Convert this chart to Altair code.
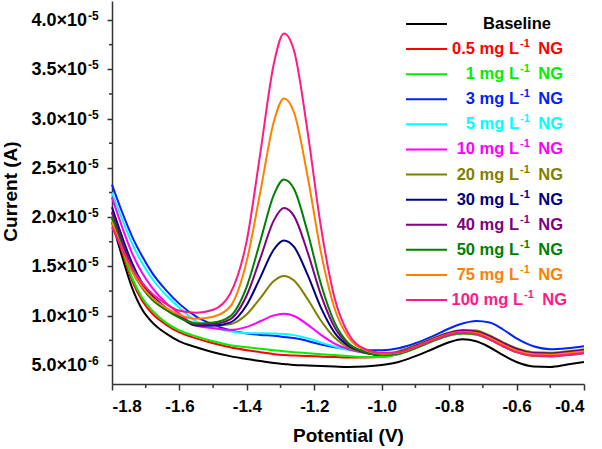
import altair as alt
import pandas as pd

# Potential grid (V)
potential = [-1.80, -1.77, -1.74, -1.71, -1.68, -1.64, -1.60, -1.55, -1.50, -1.45,
             -1.40, -1.36, -1.32, -1.29, -1.26, -1.22, -1.18, -1.14, -1.10, -1.05,
             -1.00, -0.95, -0.90, -0.85, -0.80, -0.76, -0.72, -0.68, -0.64, -0.60,
             -0.55, -0.50, -0.45, -0.40]

# Currents in units of 1e-6 A
baseline = [19.5, 16.0, 12.8, 10.6, 9.3, 8.2, 7.4, 6.8,
            6.3, 5.9, 5.6, 5.4, 5.2, 5.1, 5.0, 4.95, 4.9, 4.85, 4.8, 4.85, 5.0,
            5.3, 5.9, 6.6, 7.3, 7.6, 7.4, 6.8, 6.0, 5.3, 4.85, 4.8, 5.05, 5.3]
ng_0_5 = [20.0, 16.5, 13.5, 11.5, 10.2, 9.1, 8.3, 7.7,
          7.2, 6.8, 6.5, 6.3, 6.1, 6.0, 5.95, 5.9, 5.85, 5.8, 5.75, 5.75, 5.8,
          6.1, 6.7, 7.4, 8.0, 8.2, 8.1, 7.6, 6.9, 6.3, 5.9, 5.85, 6.0, 6.2]
ng_1 = [20.0, 16.8, 13.8, 11.8, 10.5, 9.3, 8.5, 7.9,
        7.4, 7.0, 6.8, 6.65, 6.5, 6.4, 6.3, 6.2, 6.1, 6.0, 5.9, 5.8, 5.8,
        6.1, 6.7, 7.4, 8.0, 8.2, 8.1, 7.6, 6.9, 6.3, 5.95, 5.9, 6.05, 6.25]
ng_3 = [23.3, 20.5, 18.0, 16.0, 14.3, 12.6, 11.2, 9.9,
        9.1, 8.53, 8.2, 8.05, 7.96, 7.85, 7.73, 7.44, 7.08, 6.8, 6.62, 6.5, 6.5,
        6.7, 7.2, 7.9, 8.7, 9.2, 9.45, 9.3, 8.6, 7.7, 6.9, 6.6, 6.7, 6.9]
ng_5 = [22.5, 19.8, 17.3, 15.3, 13.7, 12.1, 10.8, 9.4,
        8.8, 8.43, 8.23, 8.21, 8.2, 8.15, 8.03, 7.71, 7.27, 6.87, 6.52, 6.3, 6.2,
        6.3, 6.85, 7.55, 8.15, 8.35, 8.25, 7.75, 7.05, 6.45, 6.05, 6.0, 6.15, 6.35]
ng_10 = [22.0, 19.0, 16.3, 14.3, 12.8, 11.3, 10.2, 9.0,
         8.73, 8.57, 8.87, 9.44, 10.03, 10.2, 9.97, 9.1, 8.05, 7.17, 6.62, 6.22, 6.05,
         6.2, 6.8, 7.5, 8.1, 8.3, 8.2, 7.7, 7.0, 6.4, 6.0, 5.95, 6.1, 6.3]
ng_20 = [20.5, 17.5, 14.8, 13.0, 11.8, 10.6, 9.8, 9.2,
         9.02, 9.14, 10.15, 11.79, 13.52, 14.04, 13.57, 11.69, 9.49, 7.79, 6.79, 6.25, 6.05,
         6.4, 7.0, 7.7, 8.3, 8.55, 8.5, 8.0, 7.3, 6.7, 6.3, 6.25, 6.4, 6.6]
ng_30 = [21.0, 18.0, 15.3, 13.3, 12.0, 10.8, 9.9, 9.0,
         9.0, 9.3, 11.11, 13.89, 16.72, 17.63, 16.98, 14.16, 10.79, 8.29, 6.97, 6.27, 6.0,
         6.3, 6.9, 7.6, 8.2, 8.45, 8.35, 7.9, 7.2, 6.6, 6.2, 6.15, 6.3, 6.5]
ng_40 = [20.5, 17.5, 14.8, 13.0, 11.8, 10.7, 9.9, 9.1,
         9.15, 9.63, 12.1, 15.84, 19.67, 20.92, 20.1, 16.46, 12.09, 8.84, 7.12, 6.3, 6.0,
         6.3, 6.9, 7.6, 8.25, 8.5, 8.4, 7.9, 7.2, 6.6, 6.2, 6.15, 6.3, 6.5]
ng_50 = [20.0, 17.0, 14.5, 12.8, 11.6, 10.6, 9.8, 9.2,
         9.3, 9.93, 12.98, 17.57, 22.26, 23.82, 22.85, 18.49, 13.19, 9.32, 7.25, 6.32, 6.0,
         6.15, 6.75, 7.45, 8.05, 8.25, 8.15, 7.65, 6.95, 6.35, 6.0, 5.95, 6.1, 6.3]
ng_75 = [19.5, 16.8, 14.5, 12.9, 11.8, 10.8, 10.1, 9.7,
         9.9, 10.91, 15.61, 22.57, 29.67, 32.05, 30.62, 24.18, 16.39, 10.75, 7.84, 6.53, 6.15,
         6.25, 6.85, 7.55, 8.15, 8.35, 8.25, 7.75, 7.05, 6.45, 6.1, 6.05, 6.2, 6.4]
ng_100 = [19.0, 16.8, 14.8, 13.3, 12.2, 11.2, 10.5, 10.3,
          10.6, 12.2, 17.67, 26.53, 35.57, 38.64, 36.88, 28.71, 18.95, 11.82, 8.24, 6.62, 6.23,
          6.3, 6.85, 7.5, 8.1, 8.3, 8.15, 7.6, 6.9, 6.3, 5.95, 5.9, 6.05, 6.25]

concentrations = ["0.5", "1", "3", "5", "10", "20", "30", "40", "50", "75", "100"]
labels = ["Baseline"] + [c + " mg L-1 NG" for c in concentrations]
colors = ["#000000", "#FF0000", "#00EE00", "#0022FF", "#00FFFF", "#FF00FF",
          "#808000", "#000080", "#800080", "#008000", "#FF8000", "#FF1A86"]
series = [baseline, ng_0_5, ng_1, ng_3, ng_5, ng_10, ng_20, ng_30, ng_40, ng_50, ng_75, ng_100]

x_major = [-1.8, -1.6, -1.4, -1.2, -1.0, -0.8, -0.6, -0.4]
x_minor = [-1.7, -1.5, -1.3, -1.1, -0.9, -0.7, -0.5]
y_major = [5e-6, 1e-5, 1.5e-5, 2e-5, 2.5e-5, 3e-5, 3.5e-5, 4e-5]
y_minor = [7.5e-6, 1.25e-5, 1.75e-5, 2.25e-5, 2.75e-5, 3.25e-5, 3.75e-5]

rows = []
for k, (col, vals) in enumerate(zip(colors, series)):
    for v, c in zip(potential, vals):
        rows.append({"V": v, "I": c * 1e-6, "series": k, "color": col})
df = pd.DataFrame(rows)

FONT = "Liberation Sans"
xscale = alt.Scale(domain=[-1.8, -0.4], nice=False, zero=False)
yscale = alt.Scale(domain=[3.07e-6, 4.193e-5], nice=False, zero=False)

xaxis = alt.Axis(
    values=x_major, title="Potential (V)", tickSize=6, labelPadding=8,
    labelExpr="datum.value < 0 ? '-' + format(-datum.value, '.1f') : format(datum.value, '.1f')",
    titlePadding=12)
yaxis = alt.Axis(
    values=y_major, title="Current (A)", tickSize=5, labels=False,
    titleX=-102, titleY=190, titleAngle=270, titleAlign="center", titleBaseline="middle")

lines = alt.Chart(df).mark_line(strokeWidth=2, interpolate="monotone").encode(
    x=alt.X("V:Q", scale=xscale, axis=xaxis),
    y=alt.Y("I:Q", scale=yscale, axis=yaxis),
    color=alt.Color("color:N", scale=None),
    detail="series:N",
)

xminor = alt.Chart(pd.DataFrame({"V": x_minor})).mark_rule(color="#333333", strokeWidth=1.5).encode(
    x=alt.X("V:Q", scale=xscale, axis=xaxis),
    y=alt.value(383), y2=alt.value(387),
)
yminor = alt.Chart(pd.DataFrame({"I": y_minor})).mark_rule(color="#333333", strokeWidth=1.5).encode(
    y=alt.Y("I:Q", scale=yscale, axis=yaxis),
    x=alt.value(-3), x2=alt.value(0),
)

ytick_base = alt.Chart(pd.DataFrame({"I": y_major})).transform_calculate(
    mant="(datum.I < 9e-6 ? format(datum.I * 1e6, '.1f') : format(datum.I * 1e5, '.1f')) + '\u00d710'",
    sup="datum.I < 9e-6 ? '-6' : '-5'",
)
ylab_main = ytick_base.mark_text(
    align="right", baseline="middle", font=FONT, fontSize=18, fontWeight="bold", color="black", dy=1
).encode(y=alt.Y("I:Q", scale=yscale, axis=yaxis), x=alt.value(-25), text="mant:N")
ylab_sup = ytick_base.mark_text(
    align="left", baseline="middle", font=FONT, fontSize=12, fontWeight="bold", color="black", dy=-4
).encode(y=alt.Y("I:Q", scale=yscale, axis=yaxis), x=alt.value(-24), text="sup:N")

main = alt.layer(lines, xminor, yminor, ylab_main, ylab_sup)

leg_df = pd.DataFrame({
    "row": list(range(len(labels))),
    "color": colors,
    "label": labels,
    "pre": [""] + [c + " mg L" for c in concentrations],
})
leg_scale = alt.Scale(domain=[0, 11], range=[23, 299], nice=False, zero=False)
leg_y = alt.Y("row:Q", scale=leg_scale, axis=None)
leg_color = alt.Color("color:N", scale=None)
txt = dict(baseline="middle", font=FONT, fontWeight="bold")


def label_rows(filt, shift):
    rows_chart = alt.Chart(leg_df).transform_filter(filt)
    pre = rows_chart.mark_text(align="right", fontSize=16.5, **txt).encode(
        y=leg_y, x=alt.value(407 + shift), text="pre:N", color=leg_color)
    sup = rows_chart.mark_text(align="left", fontSize=11, dy=-5, **txt).encode(
        y=leg_y, x=alt.value(408 + shift), text=alt.value("-1"), color=leg_color)
    ng = rows_chart.mark_text(align="right", fontSize=16.5, **txt).encode(
        y=leg_y, x=alt.value(451 + shift), text=alt.value("NG"), color=leg_color)
    return [pre, sup, ng]


leg_lines = alt.Chart(leg_df).mark_rule(strokeWidth=2).encode(
    y=leg_y, x=alt.value(294), x2=alt.value(335), color=leg_color)
leg_base = alt.Chart(leg_df).transform_filter("datum.row == 0").mark_text(
    align="center", fontSize=16.5, **txt).encode(
    y=leg_y, x=alt.value(405), text="label:N", color=leg_color)
legend = alt.layer(leg_lines, leg_base,
                   *label_rows("datum.row > 0 && datum.row < 11", 0),
                   *label_rows("datum.row == 11", 4))

chart = alt.layer(main, legend).resolve_scale(y="independent").properties(
    width=472, height=383,
    autosize=alt.AutoSizeParams(type="none"),
    padding={"left": 112, "top": 1, "right": 18, "bottom": 65},
    background="white",
).configure_view(stroke=None).configure_axis(
    domainColor="#333333", domainWidth=1.5, tickColor="#333333", tickWidth=1.5,
    grid=False, labelFont=FONT, labelFontSize=17, labelFontWeight="bold", labelColor="#000000",
    titleFont=FONT, titleFontSize=19, titleFontWeight="bold", titleColor="#000000",
)

chart.save("out.html", embed_options={"renderer": "svg", "actions": False})
